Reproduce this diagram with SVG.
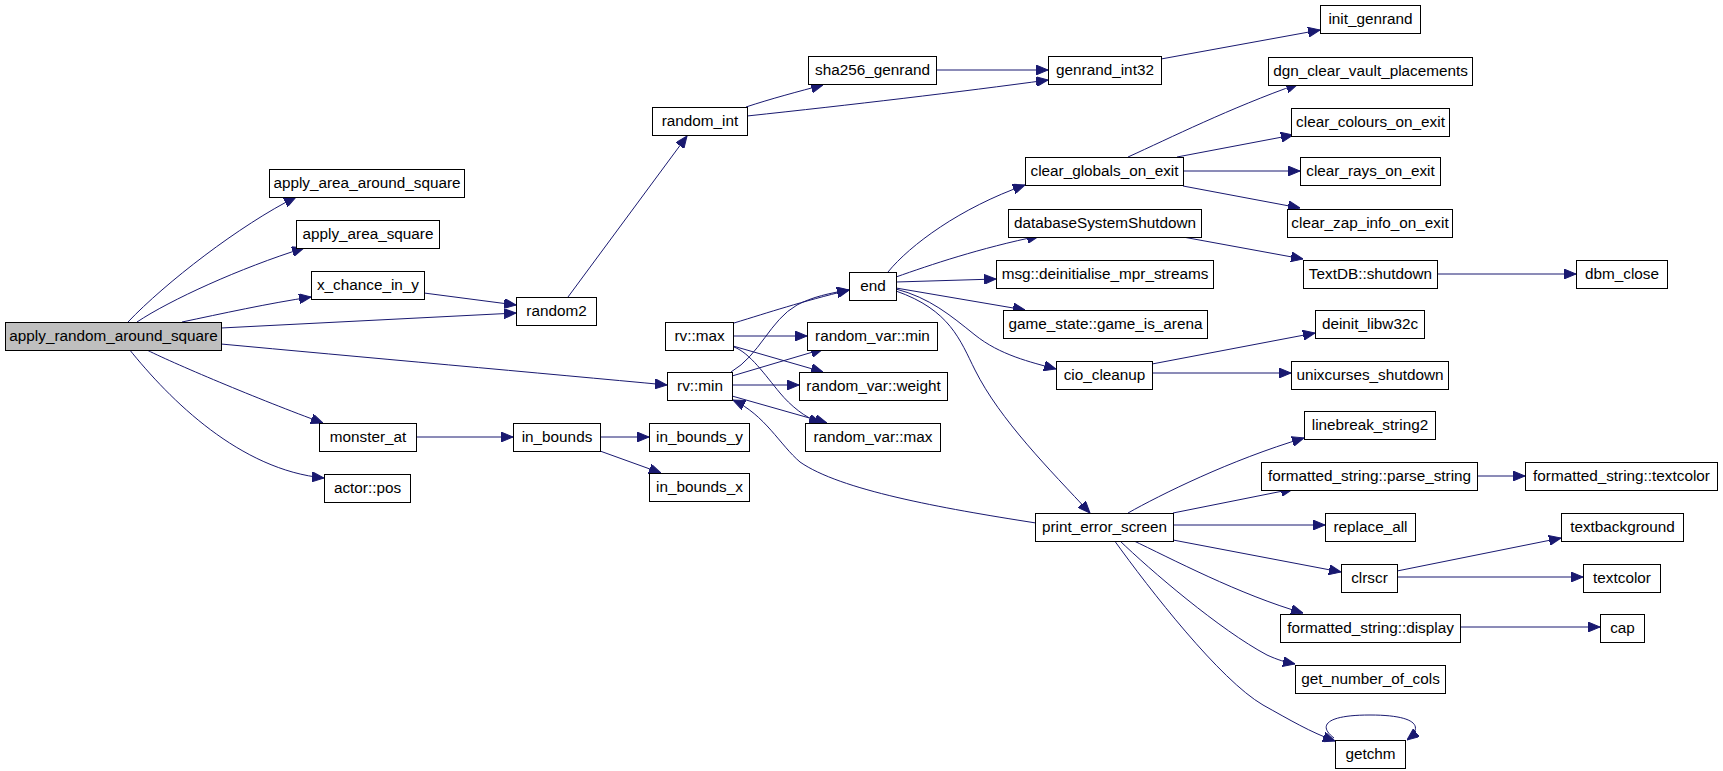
<svg xmlns="http://www.w3.org/2000/svg" width="1723" height="771" viewBox="0 0 1723 771">
<style>
.n rect{fill:#ffffff;stroke:#000000;stroke-width:1}
.n.root rect{fill:#bfbfbf}
.n text{font-family:"Liberation Sans",Arial,Helvetica,sans-serif;font-size:15.3px;fill:#000000;text-anchor:middle}
#edges path{fill:none;stroke:#191970;stroke-width:1;marker-end:url(#ah)}
</style>
<defs>
<marker id="ah" markerUnits="userSpaceOnUse" viewBox="0 0 12 10" refX="12" refY="5" markerWidth="12" markerHeight="10" orient="auto">
<path d="M0,0 L12,5 L0,10 Z" fill="#191970" stroke="#191970" stroke-width="1"/>
</marker>
</defs>
<rect width="1723" height="771" fill="#ffffff"/>
<g id="edges">
<path d="M128,322 C165,283 240,225 296,197"/>
<path d="M137,322 C170,300 240,268 304,248"/>
<path d="M182,322 C220,314 270,303 311,297"/>
<path d="M221,328 L516,313"/>
<path d="M424,293 L516,305"/>
<path d="M221,344 C350,356 550,374 667,385"/>
<path d="M145,349 C170,362 260,400 323,423"/>
<path d="M129,349 C170,400 240,470 324,478"/>
<path d="M416,437 L513,437"/>
<path d="M568,297 L687,136"/>
<path d="M746,107 C770,99 800,91 823,85"/>
<path d="M747,116 C850,105 960,92 1048,80"/>
<path d="M936,70 L1048,70"/>
<path d="M1161,59 L1320,30"/>
<path d="M734,323 C770,312 800,302 849,290"/>
<path d="M733,336 L807,336"/>
<path d="M733,346 L823,372"/>
<path d="M734,347 C750,353 765,375 780,393 C790,405 805,418 821,423"/>
<path d="M731,372 C760,355 770,320 797,305 C812,297 830,293 849,290"/>
<path d="M732,376 L823,349"/>
<path d="M732,385 L799,385"/>
<path d="M732,396 L827,423"/>
<path d="M1036,523 C940,508 840,490 800,462 C780,445 765,415 733,400"/>
<path d="M600,437 L649,437"/>
<path d="M600,451 L661,473"/>
<path d="M888,272 C910,245 960,208 1025,185"/>
<path d="M896,277 C930,265 980,248 1039,236"/>
<path d="M896,282 L996,279"/>
<path d="M896,288 L1025,310"/>
<path d="M896,289 C930,298 950,315 975,335 C1000,355 1030,362 1056,369"/>
<path d="M896,291 C950,310 960,340 975,370 C1000,420 1050,470 1090,513"/>
<path d="M1128,157 C1170,138 1230,108 1298,84"/>
<path d="M1177,157 L1293,135"/>
<path d="M1183,171 L1300,171"/>
<path d="M1183,186 L1300,208"/>
<path d="M1183,237 L1303,259"/>
<path d="M1437,274 L1576,274"/>
<path d="M1152,364 L1315,333"/>
<path d="M1152,373 L1291,373"/>
<path d="M1128,513 C1160,495 1230,460 1304,438"/>
<path d="M1173,513 L1293,489"/>
<path d="M1173,525 L1325,525"/>
<path d="M1173,540 L1341,572"/>
<path d="M1132,540 C1170,558 1240,595 1303,613"/>
<path d="M1119,540 C1150,570 1220,630 1267,655 C1278,660 1285,662 1295,664"/>
<path d="M1114,540 C1150,590 1220,680 1263,705 C1290,720 1310,732 1335,741"/>
<path d="M1477,476 L1525,476"/>
<path d="M1397,571 L1561,538"/>
<path d="M1397,577 L1583,577"/>
<path d="M1460,627 L1600,627"/>
<path d="M1334,738 C1318,726 1325,715 1370,715 C1415,715 1425,726 1407,740"/>
</g>
<g id="n_apply_random_around_square" class="n root"><rect x="5.5" y="322.5" width="216" height="28"/><text x="113.5" y="341">apply_random_around_square</text></g>
<g id="n_apply_area_around_square" class="n"><rect x="269.5" y="169.5" width="195" height="28"/><text x="367" y="188">apply_area_around_square</text></g>
<g id="n_apply_area_square" class="n"><rect x="296.5" y="220.5" width="143" height="28"/><text x="368" y="239">apply_area_square</text></g>
<g id="n_x_chance_in_y" class="n"><rect x="311.5" y="271.5" width="113" height="28"/><text x="368" y="290">x_chance_in_y</text></g>
<g id="n_random2" class="n"><rect x="516.5" y="297.5" width="80" height="28"/><text x="556.5" y="316">random2</text></g>
<g id="n_monster_at" class="n"><rect x="319.5" y="423.5" width="97" height="28"/><text x="368" y="442">monster_at</text></g>
<g id="n_actor_pos" class="n"><rect x="324.5" y="474.5" width="86" height="28"/><text x="367.5" y="493">actor::pos</text></g>
<g id="n_random_int" class="n"><rect x="652.5" y="107.5" width="95" height="28"/><text x="700" y="126">random_int</text></g>
<g id="n_sha256_genrand" class="n"><rect x="808.5" y="56.5" width="128" height="28"/><text x="872.5" y="75">sha256_genrand</text></g>
<g id="n_genrand_int32" class="n"><rect x="1048.5" y="56.5" width="113" height="28"/><text x="1105" y="75">genrand_int32</text></g>
<g id="n_init_genrand" class="n"><rect x="1320.5" y="5.5" width="100" height="28"/><text x="1370.5" y="24">init_genrand</text></g>
<g id="n_rv_max" class="n"><rect x="665.5" y="322.5" width="68" height="28"/><text x="699.5" y="341">rv::max</text></g>
<g id="n_rv_min" class="n"><rect x="667.5" y="372.5" width="65" height="28"/><text x="700" y="391">rv::min</text></g>
<g id="n_in_bounds" class="n"><rect x="513.5" y="423.5" width="87" height="28"/><text x="557" y="442">in_bounds</text></g>
<g id="n_in_bounds_y" class="n"><rect x="649.5" y="423.5" width="100" height="28"/><text x="699.5" y="442">in_bounds_y</text></g>
<g id="n_in_bounds_x" class="n"><rect x="649.5" y="473.5" width="100" height="28"/><text x="699.5" y="492">in_bounds_x</text></g>
<g id="n_end" class="n"><rect x="849.5" y="272.5" width="47" height="28"/><text x="873" y="291">end</text></g>
<g id="n_random_var_min" class="n"><rect x="807.5" y="322.5" width="130" height="28"/><text x="872.5" y="341">random_var::min</text></g>
<g id="n_random_var_weight" class="n"><rect x="799.5" y="372.5" width="148" height="28"/><text x="873.5" y="391">random_var::weight</text></g>
<g id="n_random_var_max" class="n"><rect x="805.5" y="423.5" width="135" height="28"/><text x="873" y="442">random_var::max</text></g>
<g id="n_clear_globals_on_exit" class="n"><rect x="1025.5" y="157.5" width="158" height="28"/><text x="1104.5" y="176">clear_globals_on_exit</text></g>
<g id="n_databaseSystemShutdown" class="n"><rect x="1008.5" y="209.5" width="193" height="28"/><text x="1105" y="228">databaseSystemShutdown</text></g>
<g id="n_msg_deinitialise_mpr_streams" class="n"><rect x="996.5" y="260.5" width="217" height="28"/><text x="1105" y="279">msg::deinitialise_mpr_streams</text></g>
<g id="n_game_is_arena" class="n"><rect x="1003.5" y="310.5" width="204" height="28"/><text x="1105.5" y="329">game_state::game_is_arena</text></g>
<g id="n_cio_cleanup" class="n"><rect x="1056.5" y="361.5" width="96" height="28"/><text x="1104.5" y="380">cio_cleanup</text></g>
<g id="n_print_error_screen" class="n"><rect x="1035.5" y="513.5" width="138" height="28"/><text x="1104.5" y="532">print_error_screen</text></g>
<g id="n_dgn_clear_vault_placements" class="n"><rect x="1268.5" y="57.5" width="204" height="28"/><text x="1370.5" y="76">dgn_clear_vault_placements</text></g>
<g id="n_clear_colours_on_exit" class="n"><rect x="1291.5" y="108.5" width="158" height="28"/><text x="1370.5" y="127">clear_colours_on_exit</text></g>
<g id="n_clear_rays_on_exit" class="n"><rect x="1300.5" y="157.5" width="140" height="28"/><text x="1370.5" y="176">clear_rays_on_exit</text></g>
<g id="n_clear_zap_info_on_exit" class="n"><rect x="1287.5" y="209.5" width="165" height="28"/><text x="1370" y="228">clear_zap_info_on_exit</text></g>
<g id="n_TextDB_shutdown" class="n"><rect x="1303.5" y="260.5" width="134" height="28"/><text x="1370.5" y="279">TextDB::shutdown</text></g>
<g id="n_deinit_libw32c" class="n"><rect x="1315.5" y="310.5" width="109" height="28"/><text x="1370" y="329">deinit_libw32c</text></g>
<g id="n_unixcurses_shutdown" class="n"><rect x="1291.5" y="361.5" width="157" height="28"/><text x="1370" y="380">unixcurses_shutdown</text></g>
<g id="n_linebreak_string2" class="n"><rect x="1304.5" y="411.5" width="131" height="28"/><text x="1370" y="430">linebreak_string2</text></g>
<g id="n_parse_string" class="n"><rect x="1261.5" y="462.5" width="216" height="28"/><text x="1369.5" y="481">formatted_string::parse_string</text></g>
<g id="n_replace_all" class="n"><rect x="1325.5" y="513.5" width="90" height="28"/><text x="1370.5" y="532">replace_all</text></g>
<g id="n_clrscr" class="n"><rect x="1341.5" y="564.5" width="56" height="28"/><text x="1369.5" y="583">clrscr</text></g>
<g id="n_display" class="n"><rect x="1280.5" y="614.5" width="180" height="28"/><text x="1370.5" y="633">formatted_string::display</text></g>
<g id="n_get_number_of_cols" class="n"><rect x="1295.5" y="665.5" width="150" height="28"/><text x="1370.5" y="684">get_number_of_cols</text></g>
<g id="n_getchm" class="n"><rect x="1335.5" y="740.5" width="70" height="28"/><text x="1370.5" y="759">getchm</text></g>
<g id="n_dbm_close" class="n"><rect x="1576.5" y="260.5" width="91" height="28"/><text x="1622" y="279">dbm_close</text></g>
<g id="n_fs_textcolor" class="n"><rect x="1525.5" y="462.5" width="192" height="28"/><text x="1621.5" y="481">formatted_string::textcolor</text></g>
<g id="n_textbackground" class="n"><rect x="1561.5" y="513.5" width="122" height="28"/><text x="1622.5" y="532">textbackground</text></g>
<g id="n_textcolor" class="n"><rect x="1583.5" y="564.5" width="77" height="28"/><text x="1622" y="583">textcolor</text></g>
<g id="n_cap" class="n"><rect x="1600.5" y="614.5" width="44" height="28"/><text x="1622.5" y="633">cap</text></g>
</svg>
